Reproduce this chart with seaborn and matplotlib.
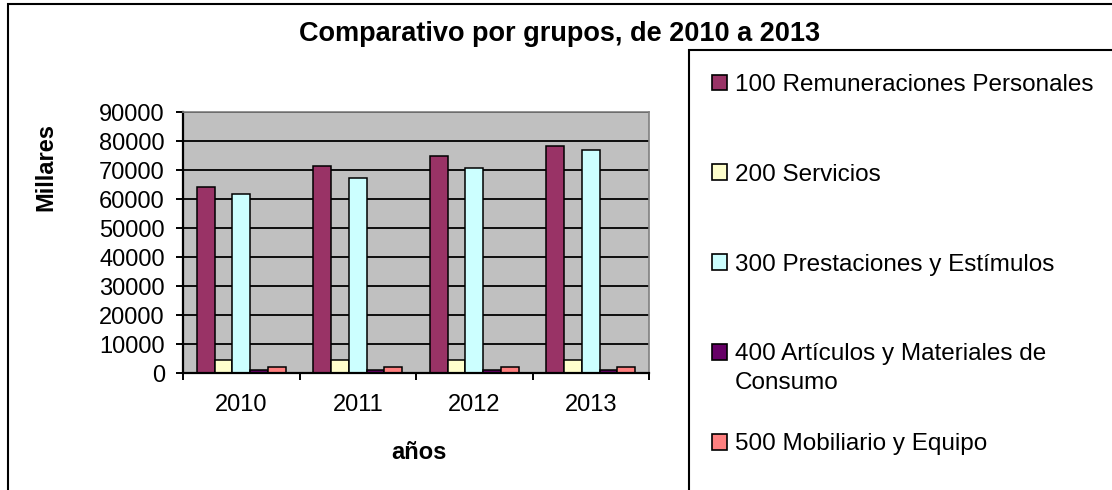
import pandas as pd
import matplotlib
matplotlib.use("Agg")
import matplotlib.pyplot as plt
import seaborn as sns
from matplotlib.patches import Rectangle

# ---- data ----
anios = ["2010", "2011", "2012", "2013"]
grupos = [
    "100 Remuneraciones Personales",
    "200 Servicios",
    "300 Prestaciones y Estímulos",
    "400 Artículos y Materiales de Consumo",
    "500 Mobiliario y Equipo",
]
g100 = [64000, 71400, 74900, 78400]
g200 = [4500, 4500, 4500, 4500]
g300 = [61800, 67300, 70800, 77000]
g400 = [1200, 1200, 1200, 1200]
g500 = [2100, 2100, 2100, 2100]
colores = ["#993366", "#FFFFCC", "#CCFFFF", "#660066", "#FF8080"]

rows = []
for grupo, vals in zip(grupos, [g100, g200, g300, g400, g500]):
    for anio, v in zip(anios, vals):
        rows.append({"anio": anio, "grupo": grupo, "valor": v})
df = pd.DataFrame(rows)

sns.set_theme(style="white")
plt.rcParams["font.family"] = ["Liberation Sans", "DejaVu Sans"]
# excel-like: all text pure black
plt.rcParams.update({"text.color": "black", "axes.labelcolor": "black",
                     "xtick.color": "black", "ytick.color": "black"})

W, H = 1112, 490
fig = plt.figure(figsize=(W / 100, H / 100), dpi=100)
ax = fig.add_axes([183 / W, 1 - 373 / H, (649 - 183) / W, (373 - 112) / H])
ax.set_facecolor("#C0C0C0")

sns.barplot(data=df, x="anio", y="valor", hue="grupo", palette=colores,
            width=0.76, gap=0, edgecolor="black", linewidth=1.1,
            saturation=1, legend=False, ax=ax)

ax.set_ylim(0, 90000)
ax.set_xlim(-0.5, len(anios) - 0.5)
ax.set_yticks(range(0, 90001, 10000))
ax.yaxis.grid(True, color="black", linewidth=1.3)
ax.set_axisbelow(True)

# year labels in the middle, tick marks on the category borders
ax.tick_params(axis="x", which="major", length=0, pad=15, labelsize=17)
ax.set_xticks([i - 0.5 for i in range(len(anios) + 1)], minor=True)
ax.tick_params(axis="x", which="minor", length=5, width=1.4, color="black",
               direction="out", bottom=True)
ax.tick_params(axis="y", length=5, width=1.4, color="black", left=True,
               direction="out", pad=8, labelsize=17)

for s in ["left", "bottom"]:
    ax.spines[s].set_color("black")
    ax.spines[s].set_linewidth(1.6)
for s in ["top", "right"]:
    ax.spines[s].set_color("#808080")
    ax.spines[s].set_linewidth(1.2)

ax.set_xlabel("")
ax.set_ylabel("")
fig.text(419 / W, 1 - 452 / H, "años", ha="center", va="center",
         fontsize=17, fontweight="bold")
fig.text(46 / W, 1 - 167 / H, "Millares", ha="center", va="center",
         rotation=90, fontsize=17, fontweight="bold")
fig.text(560 / W, 1 - 34 / H, "Comparativo por grupos, de 2010 a 2013",
         ha="center", va="center", fontsize=19.5, fontweight="bold")

# outer chart border and legend border (both run off the image)
fig.patches.append(Rectangle((8 / W, -0.05), 1.1, 1 - 4 / H + 0.05,
                             transform=fig.transFigure, fill=False,
                             edgecolor="black", linewidth=1.5, clip_on=False))
fig.patches.append(Rectangle((689 / W, -0.05), 1.1, 1 - 50 / H + 0.05,
                             transform=fig.transFigure, fill=False,
                             edgecolor="black", linewidth=1.5, clip_on=False))

# legend
handles = [Rectangle((0, 0), 1, 1, facecolor=c, edgecolor="black", linewidth=1.2)
           for c in colores]
labels = [g.replace("de Consumo", "de") for g in grupos]
leg = fig.legend(handles, labels, loc="upper left",
                 bbox_to_anchor=(712 / W, 1 - 74 / H), frameon=False,
                 fontsize=17.5, labelspacing=2.79, handlelength=0.62,
                 handleheight=0.62, handletextpad=0.33, borderpad=0,
                 borderaxespad=0)

fig.canvas.draw()
bb = leg.get_texts()[3].get_window_extent()
fig.text(bb.x0 / W, (bb.y0 - 29) / H, "Consumo", ha="left", va="bottom",
         fontsize=17.5)

fig.savefig("out.png", dpi=100)
